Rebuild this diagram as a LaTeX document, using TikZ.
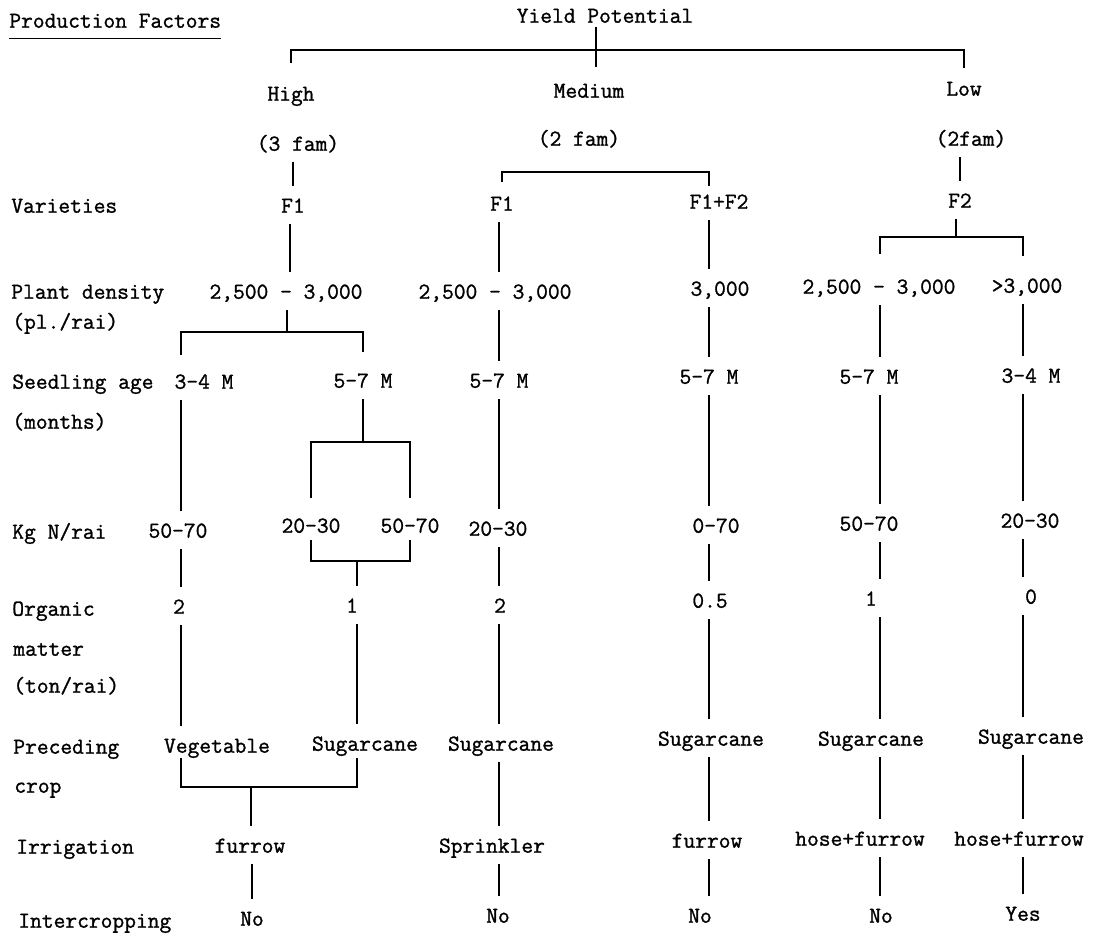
\documentclass[tikz,border=0pt]{standalone}
\usepackage{fontspec}
\usepackage{tikz}
\newfontfamily\tyfam{Latin Modern Mono}[FakeBold=1.2]
\newcommand{\tyfont}{\fontsize{13}{15}\selectfont\tyfam}
\tikzset{
  fac/.style={anchor=west, font=\tyfont, inner sep=0pt, text height=9pt, text depth=2.5pt},
  val/.style={font=\tyfont, inner sep=0pt, text height=9pt, text depth=2.5pt},
  link/.style={line width=1.1pt, shorten <=4pt, shorten >=6pt},
  stem/.style={line width=1.1pt, shorten <=4pt},
  riser/.style={line width=1.1pt, shorten >=6pt},
  bar/.style={line width=1.1pt}
}
\begin{document}
\begin{tikzpicture}[x=0.02cm, y=-0.02cm]
  \useasboundingbox (0,0) rectangle (1100,934);

  % Header
  \node[fac] (pf) at (9,22) {Production Factors};
  \draw[line width=0.9pt] ([yshift=-3.4pt]pf.south west) -- ([yshift=-3.4pt]pf.south east);
  \node[val] (yp) at (605,17) {Yield Potential};
  \node[val] (high) at (291,95) {High};
  \node[val] (med) at (589,92) {Medium};
  \node[val] (low) at (964,90) {Low};
  \node[val] (h3fam) at (298,145) {(3 fam)};
  \node[val] (m2fam) at (579,140) {(2 fam)};
  \node[val] (l2fam) at (971,140) {(2fam)};

  % Production factors (left column)
  \node[fac] (rvar) at (11,207) {Varieties};
  \node[fac] (rpd) at (11,293) {Plant density};
  \node[fac] (rpd2) at (12,323) {(pl./rai)};
  \node[fac] (rsa) at (12,383) {Seedling age};
  \node[fac] (rsa2) at (12,423) {(months)};
  \node[fac] (rkn) at (12,533) {Kg N/rai};
  \node[fac] (rom) at (12,610) {Organic};
  \node[fac] (rom2) at (13,650) {matter};
  \node[fac] (rom3) at (13,687) {(ton/rai)};
  \node[fac] (rpc) at (13,748) {Preceding};
  \node[fac] (rpc2) at (14,787) {crop};
  \node[fac] (rir) at (16,848) {Irrigation};
  \node[fac] (ric) at (18,922) {Intercropping};

  % High yield
  \node[val] (hf1) at (293,207) {F1};
  \node[val] (hpd) at (286,293) {2,500 - 3,000};
  \node[val] (hsa1) at (204,383) {3-4 M};
  \node[val] (hsa2) at (363,382) {5-7 M};
  \node[val] (hkn1) at (178,532) {50-70};
  \node[val] (hkn2) at (311,527) {20-30};
  \node[val] (hkn3) at (410,527) {50-70};
  \node[val] (hom1) at (179,608) {2};
  \node[val] (hom2) at (352,607) {1};
  \node[val] (hpc1) at (217,747) {Vegetable};
  \node[val] (hpc2) at (365,745) {Sugarcane};
  \node[val] (hir) at (250,847) {furrow};
  \node[val] (hic) at (252,920) {No};

  % Medium yield
  \node[val] (mf1) at (502,205) {F1};
  \node[val] (mpd1) at (495,293) {2,500 - 3,000};
  \node[val] (msa1) at (499,382) {5-7 M};
  \node[val] (mkn1) at (498,530) {20-30};
  \node[val] (mom1) at (500,607) {2};
  \node[val] (mpc1) at (501,745) {Sugarcane};
  \node[val] (mir1) at (492,847) {Sprinkler};
  \node[val] (mic1) at (498,917) {No};
  \node[val] (mf2) at (719,203) {F1+F2};
  \node[val] (mpd2) at (720,290) {3,000};
  \node[val] (msa2) at (709,378) {5-7 M};
  \node[val] (mkn2) at (716,527) {0-70};
  \node[val] (mom2) at (710,602) {0.5};
  \node[val] (mpc2) at (711,740) {Sugarcane};
  \node[val] (mir2) at (707,842) {furrow};
  \node[val] (mic2) at (700,917) {No};

  % Low yield
  \node[val] (lf2) at (960,202) {F2};
  \node[val] (lpd1) at (879,288) {2,500 - 3,000};
  \node[val] (lpd2) at (1027,287) {>3,000};
  \node[val] (lsa1) at (869,378) {5-7 M};
  \node[val] (lsa2) at (1031,377) {3-4 M};
  \node[val] (lkn1) at (869,525) {50-70};
  \node[val] (lkn2) at (1030,522) {20-30};
  \node[val] (lom1) at (871,600) {1};
  \node[val] (lom2) at (1031,598) {0};
  \node[val] (lpc1) at (871,740) {Sugarcane};
  \node[val] (lpc2) at (1031,738) {Sugarcane};
  \node[val] (lir1) at (860,840) {hose+furrow};
  \node[val] (lir2) at (1019,840) {hose+furrow};
  \node[val] (lic1) at (881,917) {No};
  \node[val] (lic2) at (1023,915) {Yes};

  % bars and columns
  \coordinate (topbar) at (596,50);
  \coordinate (medbar) at (600,172);
  \coordinate (f2bar) at (956,237);
  \coordinate (pdbar) at (287,332);
  \coordinate (sabar) at (363,442);
  \coordinate (knbar) at (357,561);
  \coordinate (pcbar) at (251,787);
  \coordinate (hcolA) at (290,0);
  \coordinate (hcolL) at (181,0);
  \coordinate (hcolR) at (357,0);
  \coordinate (mcolA) at (499,0);
  \coordinate (mcolB) at (709,0);
  \coordinate (lcolA) at (880,0);
  \coordinate (lcolB) at (1023,0);

  % Top bracket
  \draw[bar] (yp.south -| topbar) -- ++(0,40);
  \draw[bar] (high.north |- topbar) ++(0,13) -- (high.north |- topbar) -- (low.north |- topbar) -- ++(0,18);

  % High branch
  \draw[link] (h3fam.south -| hf1) -- (hf1.north);
  \draw[link] (hf1.south -| hcolA) -- (hpd.north -| hcolA);
  \draw[stem] (hpd.south -| pdbar) -- (pdbar);
  \draw[bar] (hcolL |- pdbar) ++(0,23) -- (hcolL |- pdbar) -- (hsa2.north |- pdbar) -- ++(0,20);
  \draw[link] (hsa1.south -| hcolL) -- (hkn1.north -| hcolL);
  \draw[stem] (hsa2.south -| sabar) -- (sabar);
  \draw[bar] (hkn2.north |- sabar) ++(0,56) -- (hkn2.north |- sabar) -- (hkn3.north |- sabar) -- ++(0,56);
  \draw[bar] (hkn2.north |- knbar) ++(0,-21) -- (hkn2.north |- knbar) -- (hkn3.north |- knbar) -- ++(0,-21);
  \draw[riser] (knbar) -- (hom2.north -| knbar);
  \draw[link] (hkn1.south -| hcolL) -- (hom1.north -| hcolL);
  \draw[link] (hom1.south -| hcolL) -- (hpc1.north -| hcolL);
  \draw[link] (hom2.south -| hcolR) -- (hpc2.north -| hcolR);
  \draw[bar] (hcolL |- pcbar) ++(0,-29) -- (hcolL |- pcbar) -- (hcolR |- pcbar) -- ++(0,-29);
  \draw[riser] (pcbar) -- (hir.north -| pcbar);
  \draw[link] (hir.south -| hic) -- (hic.north);

  % Medium branch
  \draw[bar] (mf1.north |- medbar) ++(0,10) -- (mf1.north |- medbar) -- (mcolB |- medbar) -- ++(0,14);
  \draw[link] (mf1.south -| mcolA) -- (mpd1.north -| mcolA);
  \draw[link] (mpd1.south -| mcolA) -- (msa1.north -| mcolA);
  \draw[link] (msa1.south -| mcolA) -- (mkn1.north -| mcolA);
  \draw[link] (mkn1.south -| mcolA) -- (mom1.north -| mcolA);
  \draw[link] (mom1.south -| mcolA) -- (mpc1.north -| mcolA);
  \draw[link] (mpc1.south -| mcolA) -- (mir1.north -| mcolA);
  \draw[link] (mir1.south -| mcolA) -- (mic1.north -| mcolA);
  \draw[link] (mf2.south -| mcolB) -- (mpd2.north -| mcolB);
  \draw[link] (mpd2.south -| mcolB) -- (msa2.north -| mcolB);
  \draw[link] (msa2.south -| mcolB) -- (mkn2.north -| mcolB);
  \draw[link] (mkn2.south -| mcolB) -- (mom2.north -| mcolB);
  \draw[link] (mom2.south -| mcolB) -- (mpc2.north -| mcolB);
  \draw[link] (mpc2.south -| mcolB) -- (mir2.north -| mcolB);
  \draw[link] (mir2.south -| mcolB) -- (mic2.north -| mcolB);

  % Low branch
  \draw[link] (l2fam.south -| lf2) -- (lf2.north);
  \draw[stem] (lf2.south -| f2bar) -- (f2bar);
  \draw[bar] (lcolA |- f2bar) ++(0,17) -- (lcolA |- f2bar) -- (lcolB |- f2bar) -- ++(0,19);
  \draw[link] (lpd1.south -| lcolA) -- (lsa1.north -| lcolA);
  \draw[link] (lsa1.south -| lcolA) -- (lkn1.north -| lcolA);
  \draw[link] (lkn1.south -| lcolA) -- (lom1.north -| lcolA);
  \draw[link] (lom1.south -| lcolA) -- (lpc1.north -| lcolA);
  \draw[link] (lpc1.south -| lcolA) -- (lir1.north -| lcolA);
  \draw[link] (lir1.south -| lcolA) -- (lic1.north -| lcolA);
  \draw[link] (lpd2.south -| lcolB) -- (lsa2.north -| lcolB);
  \draw[link] (lsa2.south -| lcolB) -- (lkn2.north -| lcolB);
  \draw[link] (lkn2.south -| lcolB) -- (lom2.north -| lcolB);
  \draw[link] (lom2.south -| lcolB) -- (lpc2.north -| lcolB);
  \draw[link] (lpc2.south -| lcolB) -- (lir2.north -| lcolB);
  \draw[link] (lir2.south -| lcolB) -- (lic2.north -| lcolB);
\end{tikzpicture}
\end{document}
